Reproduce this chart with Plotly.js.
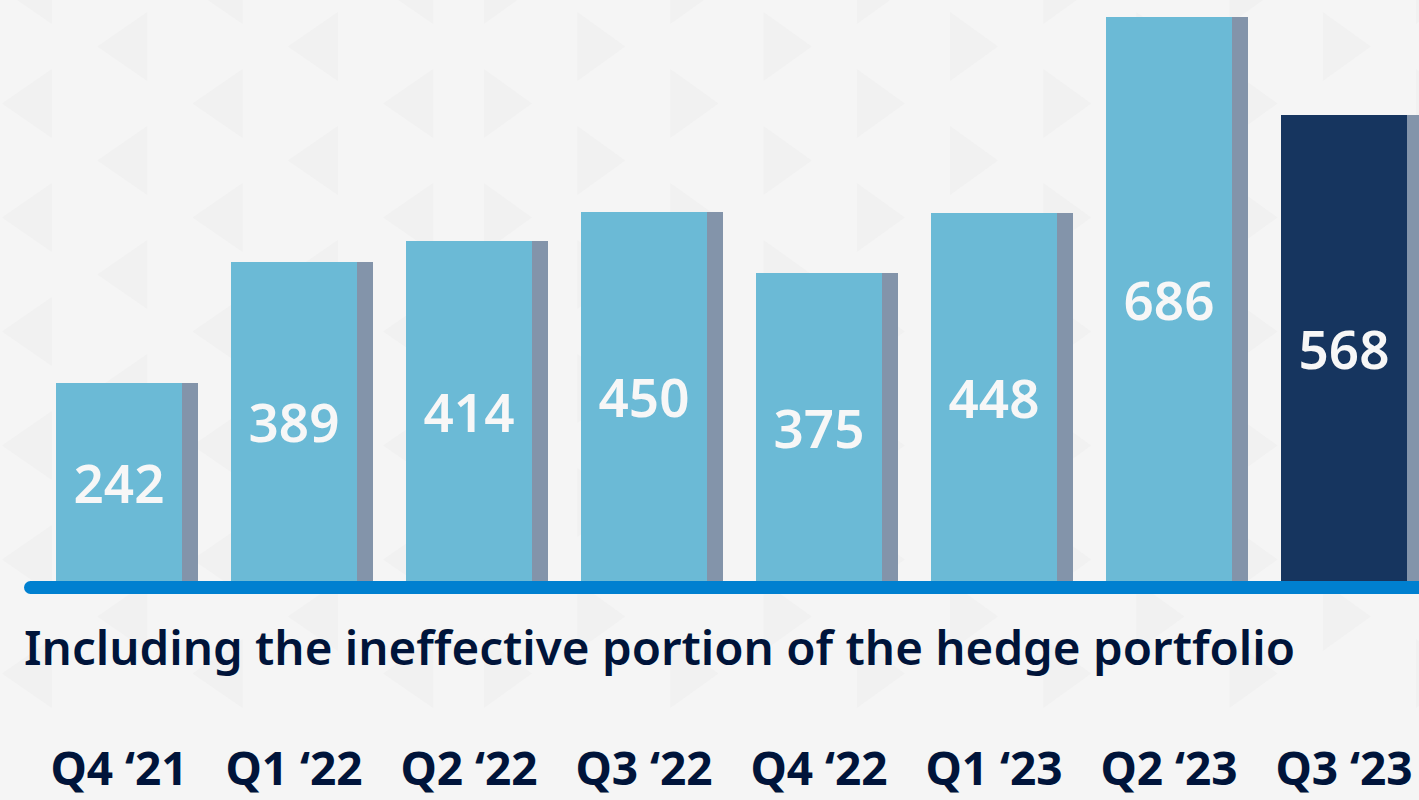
<!DOCTYPE html>
<html>
<head>
<meta charset="utf-8">
<script src="https://cdn.plot.ly/plotly-3.0.1.min.js"></script>
<style>html,body{margin:0;padding:0;background:#f5f5f5;}#chart{width:1419px;height:800px;}</style>
</head>
<body>
<div id="chart"></div>
<script>
const categories = ["Q4 \u201821", "Q1 \u201822", "Q2 \u201822", "Q3 \u201822", "Q4 \u201822", "Q1 \u201823", "Q2 \u201823", "Q3 \u201823"];
const values = [242, 389, 414, 450, 375, 448, 686, 568];
const barColors = ["#6bbad6", "#6bbad6", "#6bbad6", "#6bbad6", "#6bbad6", "#6bbad6", "#6bbad6", "#16355f"];
const subtitle = "Including the ineffective portion of the hedge portfolio";

const navy = "#00143a";
const font = "Noto Sans, Open Sans, sans-serif";
const W = 1419, H = 800;

// faint decorative triangle pattern in the background (pixel layout -> paper coords)
function tri(edgeX, tipX, tipY, halfH) {
  const px = x => (x / W).toFixed(4);
  const py = y => (1 - y / H).toFixed(4);
  return {
    type: "path", xref: "paper", yref: "paper", layer: "below",
    path: `M ${px(edgeX)} ${py(tipY - halfH)} L ${px(tipX)} ${py(tipY)} L ${px(edgeX)} ${py(tipY + halfH)} Z`,
    fillcolor: "#f1f1f1", line: {width: 0}
  };
}
const bgShapes = [];
for (let k = 0; k < 5; k++) {
  const edge = 52 + 95.3 * k;
  const start = (k % 2 === 0) ? 138 : 62;
  for (let y = start - 152 * 2; y < H + 100; y += 152) bgShapes.push(tri(edge, edge - 50, y, 46));
}
for (let k = 0; k < 11; k++) {
  const edge = 484 + 93.2 * k;
  const start = (k % 2 === 0) ? 138 : 62;
  for (let y = start - 152 * 2; y < H + 100; y += 152) bgShapes.push(tri(edge, edge + 48, y, 46));
}

const shadow = {
  type: "bar",
  x: categories,
  y: values,
  width: 0.8114,
  offset: -0.36,
  marker: {color: "#8394aa", line: {width: 0}},
  hoverinfo: "skip",
  showlegend: false
};
const main = {
  type: "bar",
  x: categories,
  y: values,
  width: 0.72,
  offset: -0.36,
  marker: {color: barColors, line: {width: 0}},
  text: values.map(String),
  textposition: "inside",
  insidetextanchor: "middle",
  textangle: 0,
  constraintext: "none",
  textfont: {family: font, size: 53, color: "#f7f7f7", weight: 600},
  showlegend: false
};

const layout = {
  width: W,
  height: H,
  margin: {l: 0, r: 0, t: 0, b: 200},
  paper_bgcolor: "#f5f5f5",
  plot_bgcolor: "rgba(0,0,0,0)",
  barmode: "overlay",
  bargap: 0,
  showlegend: false,
  title: {
    text: subtitle,
    font: {family: font, size: 47.5, color: navy, weight: 600},
    x: 24 / W, xanchor: "left", xref: "container",
    y: 1 - 648 / H, yanchor: "middle", yref: "container"
  },
  xaxis: {
    type: "category",
    range: [-0.68, 7.4286],
    showgrid: false, zeroline: false, showline: false,
    ticks: "",
    ticklabelstandoff: 138,
    tickfont: {family: font, size: 46, color: navy, weight: 700},
    automargin: false,
    fixedrange: true
  },
  yaxis: {
    range: [-21.9, 707.2],
    visible: false,
    showgrid: false, zeroline: false,
    fixedrange: true
  },
  shapes: bgShapes.concat([
    {type: "rect", xref: "paper", x0: 30 / W, x1: 1, yref: "y", ysizemode: "pixel", yanchor: 0, y0: -12, y1: 1,
     fillcolor: "#0080d0", line: {width: 0}, layer: "above"},
    {type: "circle", xref: "paper", x0: 24 / W, x1: 37 / W, yref: "y", ysizemode: "pixel", yanchor: 0, y0: -12, y1: 1,
     fillcolor: "#0080d0", line: {width: 0}, layer: "above"}
  ])
};

Plotly.newPlot("chart", [shadow, main], layout, {displayModeBar: false, staticPlot: true});
</script>
</body>
</html>
